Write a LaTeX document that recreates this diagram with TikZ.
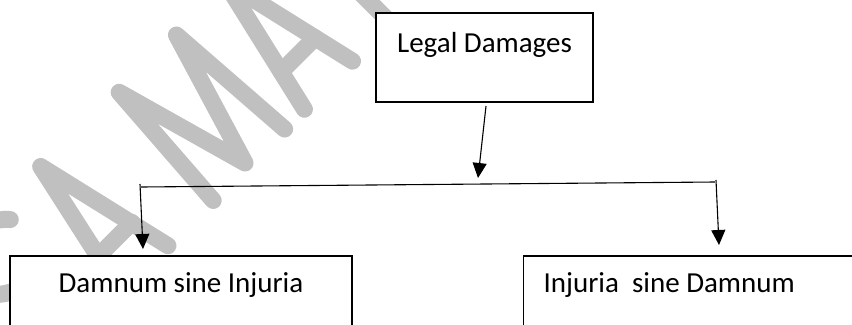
\documentclass[tikz,border=0pt]{standalone}
\usepackage{fontspec}
\setmainfont{Carlito}
\usetikzlibrary{arrows.meta}
\definecolor{wmgray}{RGB}{192,192,192}
\begin{document}
\begin{tikzpicture}[x=1bp,y=-1bp,
  box/.style={draw=black, line width=1.2bp, fill=white, inner sep=0pt,
              font=\fontsize{29bp}{35bp}\selectfont},
  ln/.style={draw=black, line width=1.1bp},
  arr/.style={ln, -{Triangle[length=15bp,width=14bp]}},
  wm/.style={draw=wmgray, line width=17bp, line cap=round, line join=round}]
\clip (0,0) rectangle (852,324);
% watermark
\begin{scope}[shift={(122,303)}, x={(0.7071bp,0.7071bp)}, y={(-0.7071bp,0.7071bp)}]
  \draw[wm] (-20,138) .. controls (-30,150) and (-42,153) .. (-55,153)
     .. controls (-78,153) and (-92,138) .. (-92,118)
     .. controls (-92,98) and (-80,90) .. (-58,80)
     .. controls (-30,68) and (-18,58) .. (-18,40)
     .. controls (-18,20) and (-35,8) .. (-55,8)
     .. controls (-70,8) and (-82,12) .. (-92,22);
  \draw[wm] (7,8) -- (39,154) -- (73,8);
  \draw[wm] (16,50) -- (64,50);
  \draw[wm] (137,8) -- (147,151) -- (186,12) -- (228,151) -- (238,8);
  \draw[wm] (266,8) -- (300,155) -- (334,8);
  \draw[wm] (276,51) -- (324,51);
  \draw[wm] (388,8) -- (388,170);
\end{scope}
% boxes
\node[box, anchor=base, minimum width=217bp, text height=39bp, text depth=50bp]
  (top) at (484.5,52) {Legal Damages};
\node[box, anchor=base, minimum width=342bp, text height=36bp, text depth=50bp]
  (dsi) at (181,292) {Damnum sine Injuria};
\node[box, anchor=base west, inner xsep=20bp, text height=36bp, text depth=50bp]
  (isd) at (523,292) {\makebox[320bp][l]{Injuria\ \ sine Damnum}};
% connectors
\coordinate (a0) at (486,106);
\coordinate (a1) at (478,178);
\coordinate (hl) at (141,187);
\coordinate (hr) at (715,182);
\coordinate (l0) at (140,184);
\coordinate (l1) at (143,249);
\coordinate (r0) at (716,180);
\coordinate (r1) at (719,245);
\draw[arr] (a0) -- (a1);
\draw[ln] (hl) -- (hr);
\draw[arr] (l0) -- (l1);
\draw[arr] (r0) -- (r1);
\end{tikzpicture}
\end{document}
